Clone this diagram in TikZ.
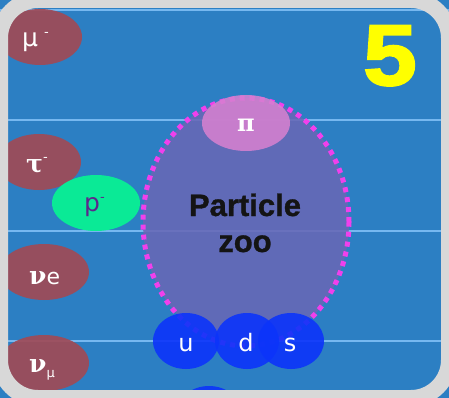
\documentclass[tikz,border=0pt]{standalone}
\usepackage{fontspec}
\setmainfont{DejaVu Sans}
\newfontfamily\grkserif{DejaVu Serif Bold}
\newfontfamily\arialbold{Liberation Sans Bold}[FakeBold=1]
\newfontfamily\numfont{Liberation Sans Bold}[FakeBold=2.5, FakeStretch=1.12]
\usetikzlibrary{shapes.geometric}
\definecolor{bgblue}{RGB}{44,127,195}
\definecolor{linelb}{RGB}{118,184,240}
\definecolor{lepred}{RGB}{160,74,86}
\definecolor{pinkpi}{RGB}{214,128,208}
\definecolor{zoofill}{RGB}{104,104,182}
\definecolor{protgreen}{RGB}{10,234,150}
\definecolor{quarkblue}{RGB}{12,52,250}
\definecolor{dotmag}{RGB}{240,64,236}
\definecolor{framegray}{RGB}{216,216,216}
\definecolor{numyellow}{RGB}{255,255,0}
\definecolor{ptext}{RGB}{92,40,140}
\tikzset{
  blob/.style={ellipse, inner sep=0pt, draw=none},
  lepton/.style={blob, fill=lepred, fill opacity=0.92, minimum width=86pt, minimum height=56pt},
  quark/.style={blob, fill=quarkblue, fill opacity=0.9, minimum width=66pt, minimum height=56pt},
  wtxt/.style={text=white, inner sep=0pt, anchor=base},
  gridline/.style={linelb, line width=1.5pt},
}
\begin{document}
\begin{tikzpicture}[x=1pt,y=-1pt]
\useasboundingbox (0,0) rectangle (449,398);
\clip (0,0) rectangle (449,398);
\fill[bgblue] (0,0) rectangle (449,398);
% grid lines
\coordinate (l1a) at (0,10);  \coordinate (l1b) at (449,10);
\coordinate (l2a) at (0,120); \coordinate (l2b) at (449,120);
\coordinate (l3a) at (0,231); \coordinate (l3b) at (449,231);
\coordinate (l4a) at (0,341); \coordinate (l4b) at (449,341);
\draw[gridline] (l1a) -- (l1b);
\draw[gridline] (l2a) -- (l2b);
\draw[gridline] (l3a) -- (l3b);
\draw[gridline] (l4a) -- (l4b);
% leptons
\node[lepton, minimum width=84pt] (mu) at (40,37) {};
\node[lepton, minimum width=84pt] (tau) at (39,162) {};
\node[lepton, minimum width=90pt] (nue) at (44,272) {};
\node[lepton, minimum width=90pt] (numu) at (44,363) {};
% antiproton
\node[blob, fill=protgreen, minimum width=88pt, minimum height=56pt] (pbar) at (96,203) {};
% particle zoo
\node[blob, fill=zoofill, fill opacity=0.88, draw=dotmag, line width=5pt,
      dash pattern=on 5pt off 5pt, minimum width=206pt, minimum height=248pt] (zoo) at (246,222) {};
\node[blob, fill=pinkpi, fill opacity=0.88, minimum width=88pt, minimum height=56pt] (pi) at (246,123) {};
% quarks
\node[quark] (qu) at (186,341) {};
\node[quark, minimum width=64pt] (qd) at (247,341) {};
\node[quark] (qs) at (291,341) {};
\node[quark] (qx) at (209,414) {};
% texts
\node[wtxt, anchor=base west] (mutxt) at (22,47) {\fontsize{25}{25}\selectfont μ\hspace{6pt}\raisebox{10pt}{\fontsize{13}{13}\selectfont -}};
\node[wtxt, anchor=base west] (tautxt) at (26,172) {\grkserif\fontsize{25}{25}\selectfont τ\raisebox{11pt}{\setmainfont{DejaVu Sans}\fontsize{13}{13}\selectfont -}};
\node[wtxt, anchor=base west] (nuetxt) at (29,284) {{\grkserif\fontsize{25}{25}\selectfont ν}{\fontsize{22}{22}\selectfont e}};
\node[wtxt, anchor=base west] (numutxt) at (29,372) {{\grkserif\fontsize{25}{25}\selectfont ν}\raisebox{-5pt}{\fontsize{13}{13}\selectfont μ}};
\node[inner sep=0pt, anchor=base west, text=ptext] (ptxt) at (84,211) {\fontsize{25}{25}\selectfont p\raisebox{10pt}{\fontsize{13}{13}\selectfont -}};
\node[wtxt] (pitxt) at (246,132) {\grkserif\fontsize{24}{24}\selectfont π};
\node[inner sep=0pt, anchor=base, text=black!92] (zoo1) at (245,216) {\arialbold\fontsize{31}{31}\selectfont Particle};
\node[inner sep=0pt, anchor=base, text=black!92] (zoo2) at (245,252) {\arialbold\fontsize{31}{31}\selectfont zoo};
\node[wtxt] (utxt) at (186,351) {\fontsize{24}{24}\selectfont u};
\node[wtxt] (dtxt) at (246,351) {\fontsize{24}{24}\selectfont d};
\node[wtxt] (stxt) at (290,351) {\fontsize{24}{24}\selectfont s};
% frame
\draw[framegray, line width=16pt, rounded corners=38pt] (0,0) rectangle (449,398);
% number
\node[inner sep=0pt, anchor=base, text=numyellow] (num) at (390,85) {\numfont\fontsize{86}{86}\selectfont 5};
\end{tikzpicture}
\end{document}
